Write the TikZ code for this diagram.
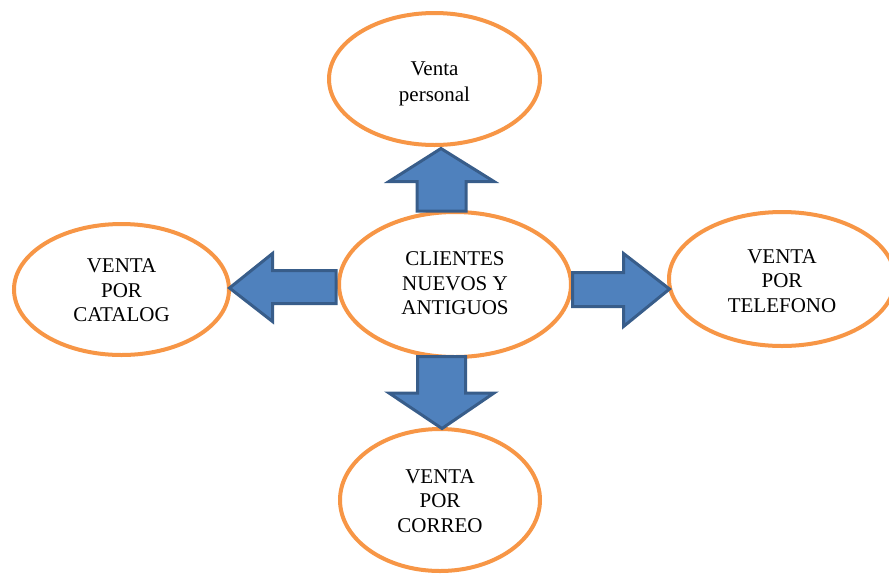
\documentclass[tikz,border=0pt]{standalone}
\usepackage{fontspec}
\setmainfont{Liberation Serif}
\usetikzlibrary{shapes.geometric}
\definecolor{ringor}{HTML}{F79646}
\definecolor{arrfill}{HTML}{4F81BD}
\definecolor{arrline}{HTML}{385D8A}
\newcommand{\tophgt}[1]{\rule{0pt}{#1pt}}
\newcommand{\botdep}[1]{\rule[-#1pt]{0pt}{#1pt}}
\tikzset{
  oval/.style={ellipse, draw=ringor, line width=4pt, fill=white, inner sep=0pt,
    align=center, font=\fontsize{21}{24.5}\selectfont},
  blockarrow/.style={fill=arrfill, draw=arrline, line width=3pt, line join=miter}
}
\begin{document}
\begin{tikzpicture}[x=1pt,y=-1pt]
\useasboundingbox (0,0) rectangle (889,574);
% ellipses
\node[oval, minimum width=211pt, minimum height=132pt, font=\fontsize{21}{26}\selectfont] (top) at (434.5,79) {\tophgt{23}Venta\\personal\botdep{5}};
\node[oval, minimum width=232pt, minimum height=145pt] (mid) at (455,284.5) {\tophgt{16}CLIENTES\\NUEVOS Y\\ANTIGUOS\botdep{5}};
\node[oval, minimum width=215pt, minimum height=131pt] (left) at (121.5,289.5) {\tophgt{16}VENTA\\POR\\CATALOG};
\node[oval, minimum width=226pt, minimum height=134pt] (right) at (782,279) {\tophgt{18}VENTA\\POR\\TELEFONO};
\node[oval, minimum width=200pt, minimum height=142pt] (bot) at (440,500) {\tophgt{16}VENTA\\POR\\CORREO};
% block arrows
\draw[blockarrow] (417,211) -- (417,181.5) -- (389,181.5) -- (441,148.5) -- (494,181.5) -- (466,181.5) -- (466,211) -- cycle;
\draw[blockarrow] (336,270.5) -- (272.5,270.5) -- (272.5,253.5) -- (229.5,288) -- (272.5,321.5) -- (272.5,303.5) -- (336,303.5) -- cycle;
\draw[blockarrow] (572.5,272.5) -- (623.5,272.5) -- (623.5,253.5) -- (669.5,289) -- (623.5,326.5) -- (623.5,306.5) -- (572.5,306.5) -- cycle;
\draw[blockarrow] (417.5,356.5) -- (465.5,356.5) -- (465.5,393) -- (494,393) -- (442,428.5) -- (389,393) -- (417.5,393) -- cycle;
\end{tikzpicture}
\end{document}
